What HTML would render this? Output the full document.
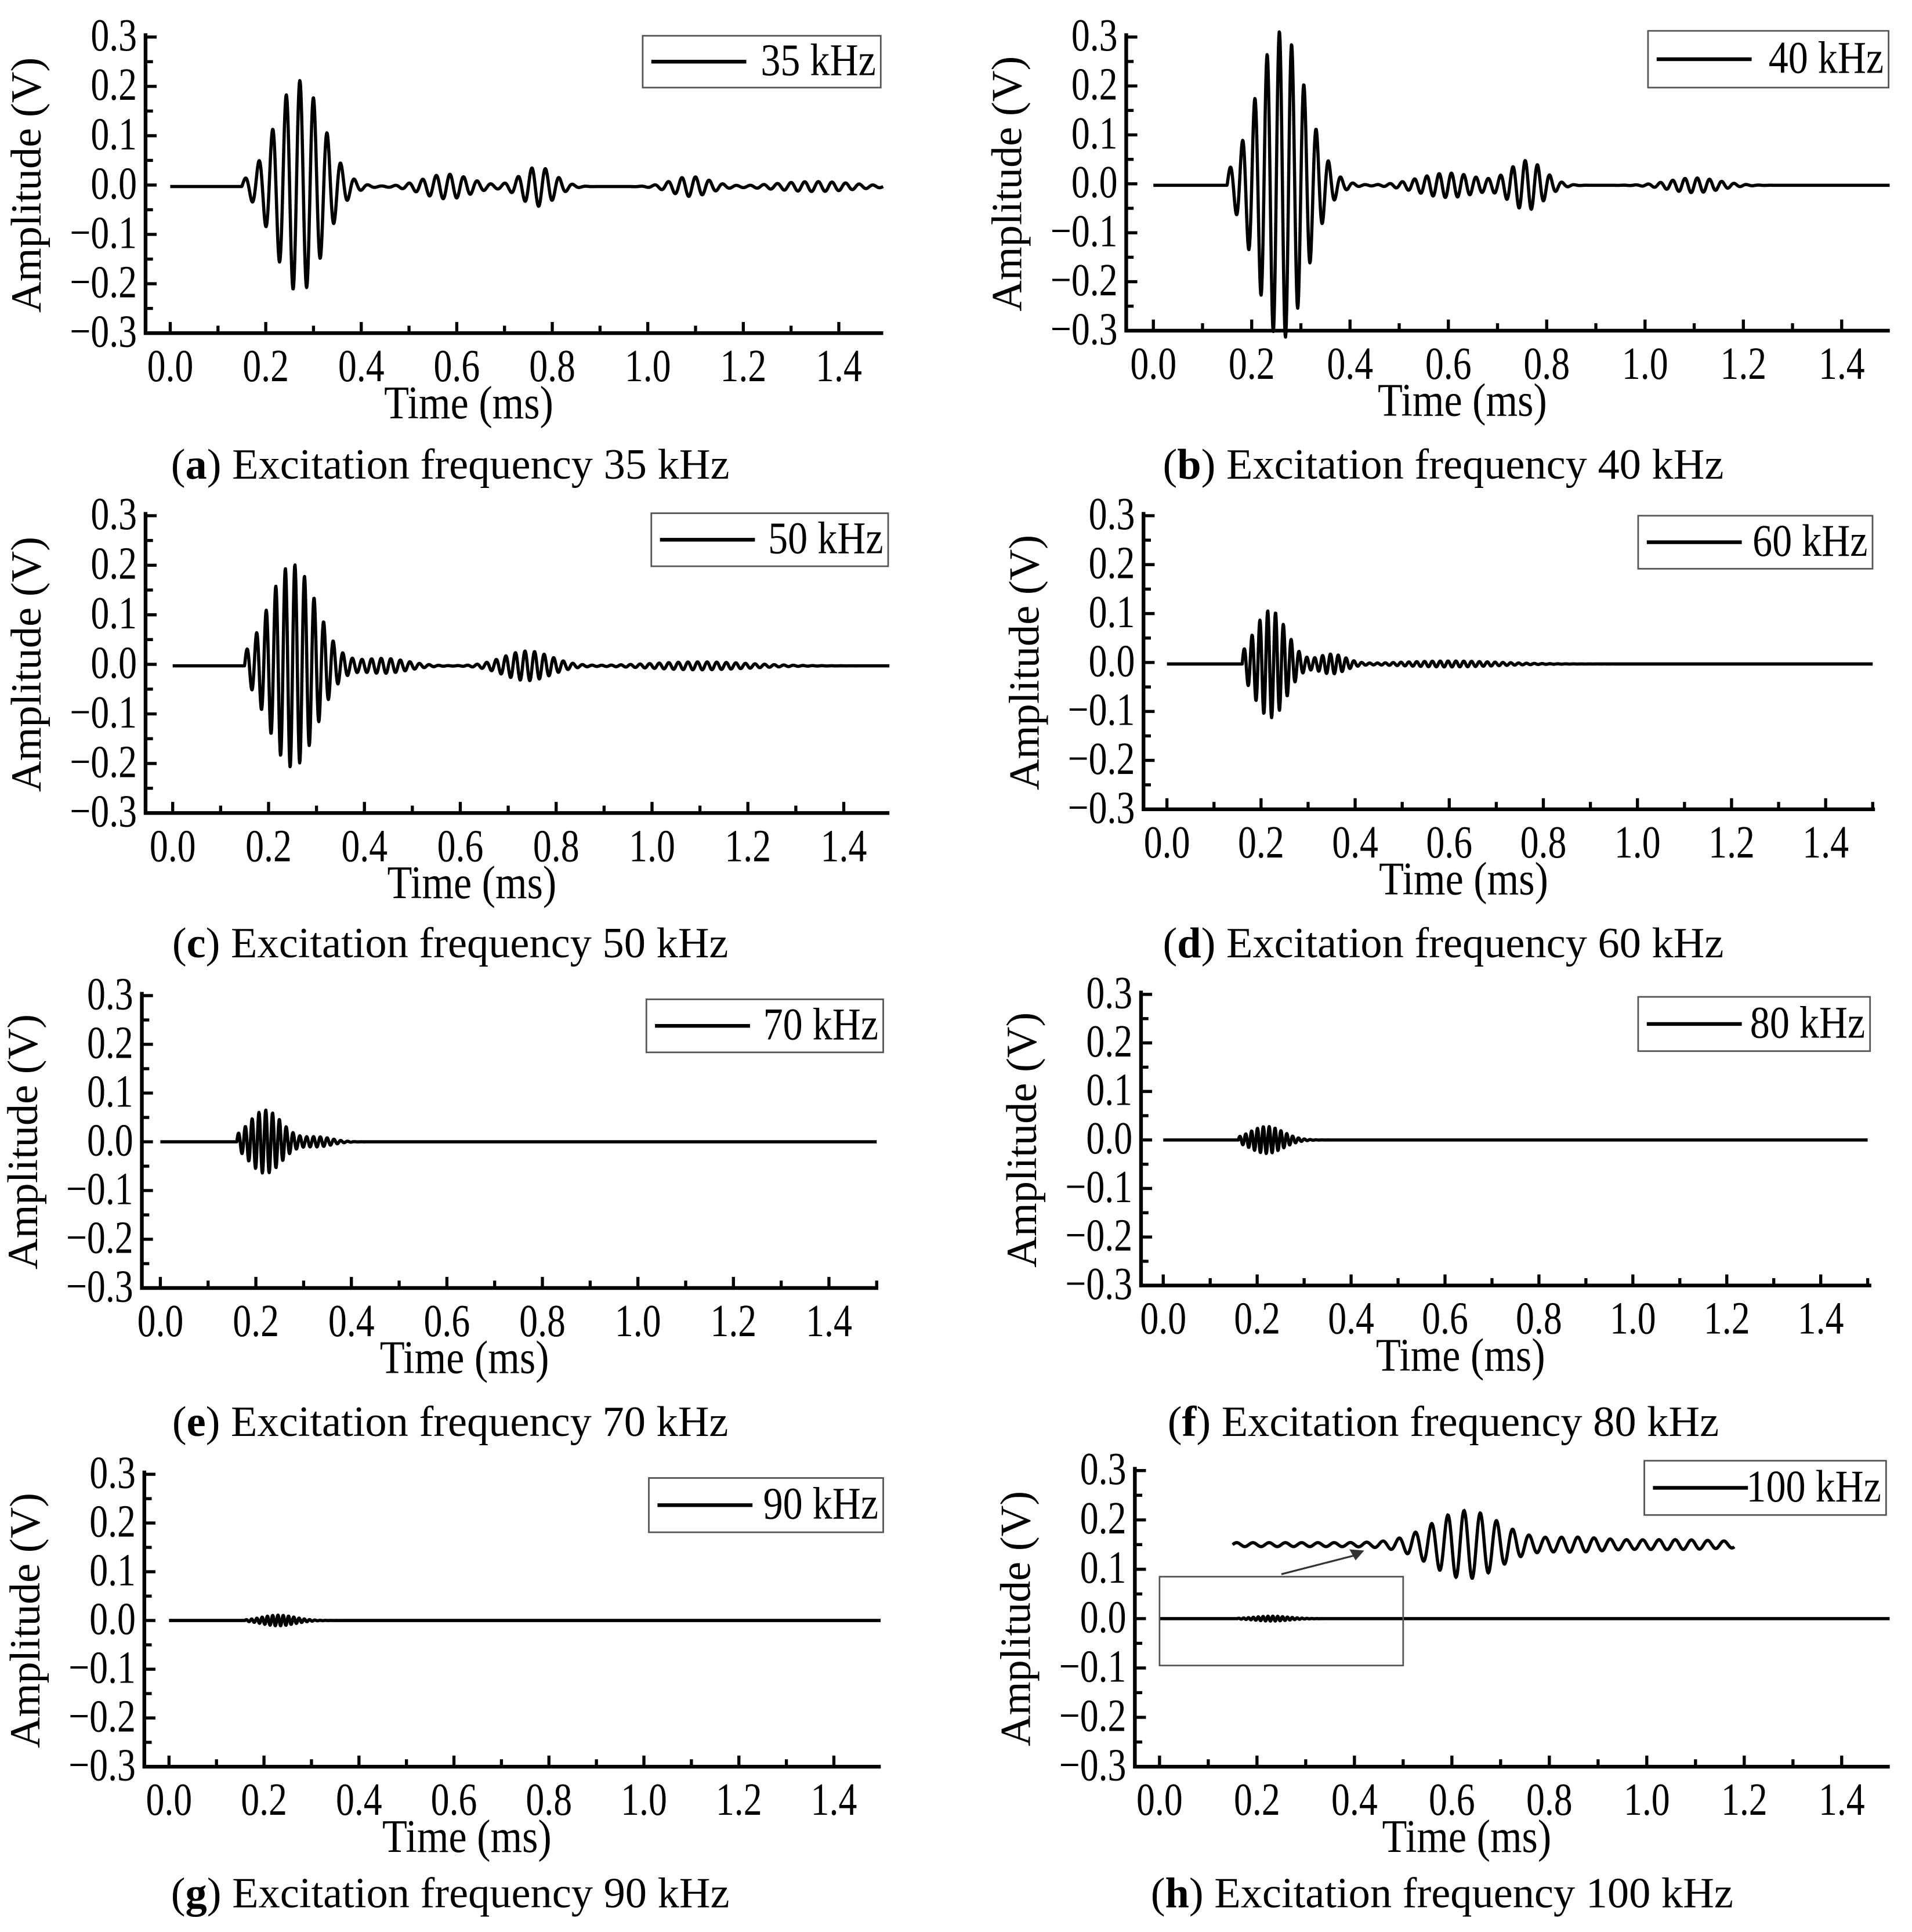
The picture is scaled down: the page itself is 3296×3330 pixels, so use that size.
<!DOCTYPE html>
<html><head><meta charset="utf-8"><style>
html,body{margin:0;padding:0;background:#fff}
svg{display:block}
text{font-family:"Liberation Serif",serif;fill:#000}
</style></head><body>
<svg id="fig" width="3296" height="3330" viewBox="0 0 1550 1566" preserveAspectRatio="none" xmlns="http://www.w3.org/2000/svg"></svg>
<script>
// Data arrays
const panelLetters = ['a','b','c','d','e','f','g','h'];
const freqs = [35,40,50,60,70,80,90,100];
const xTicks = [0.0,0.2,0.4,0.6,0.8,1.0,1.2,1.4];
const xTickLabels = ['0.0','0.2','0.4','0.6','0.8','1.0','1.2','1.4'];
const yTicks = [0.3,0.2,0.1,0.0,-0.1,-0.2,-0.3];
const yTickLabels = ['0.3','0.2','0.1','0.0','\u22120.1','\u22120.2','\u22120.3'];
// wave packets per panel: [center ms, amplitude V, sigma ms]
const packets = [
  [[0.27,0.215,0.05],[0.58,0.025,0.05],[0.77,0.04,0.035],[1.09,0.02,0.04],[1.35,0.01,0.08]],
  [[0.26,0.315,0.05],[0.6,0.025,0.06],[0.76,0.05,0.035],[1.1,0.015,0.05]],
  [[0.25,0.205,0.05],[0.44,0.015,0.05],[0.74,0.03,0.05],[1.1,0.008,0.1]],
  [[0.22,0.11,0.035],[0.35,0.02,0.03],[0.6,0.006,0.1]],
  [[0.22,0.065,0.035],[0.33,0.01,0.03]],
  [[0.22,0.028,0.035]],
  [[0.23,0.011,0.035]],
  [[0.23,0.005,0.035]]
];
const onset = [0.15,0.15,0.15,0.16,0.16,0.16,0.16,0.16];
const baseline = [-0.003,-0.003,-0.003,-0.003,0,0,0,0];
// inset of panel h: packets in inset units (V displacement), baseline value
const insetPackets = [[0.63,0.065,0.07],[0.85,0.01,0.06],[1.05,0.006,0.1]];
const insetBase = 0.15;
const insetRange = [0.15,1.18];
</script>
<script>
const svg = document.getElementById('fig');
const NS = 'http://www.w3.org/2000/svg';
function mk(tag, attrs, parent){const e=document.createElementNS(NS,tag);for(const k in attrs)e.setAttribute(k,attrs[k]);(parent||svg).appendChild(e);return e;}
function stext(x,y,size,anchor,parent,sy){return mk('text',{x:0,y:0,'font-size':size,'text-anchor':anchor,transform:`translate(${x},${y}) scale(1,${sy||1.2})`},parent);}
const layout = [
  [118,30,270,138,680,716,[521,29,714,71],377,365],
  [913,30,268,935,1493,1532,[1336,25,1531,71],377,1170],
  [118,418,659,140,684,721,[528,416,720,459],765,365],
  [927,418,656,946,1480,1520,[1328,418,1518,461],765,1170],
  [115,807,1044,130,672,712,[524,810,716,853],1153,365],
  [925,806,1042,943,1476,1517,[1328,808,1516,852],1153,1170],
  [117,1195,1432,137,676,714,[526,1198,716,1242],1535,365],
  [920,1192,1432,940,1493,1532,[1333,1184,1529,1228],1535,1169]
];
function signal(t,i){
  if(t<onset[i]) return baseline[i];
  let v=0;
  for(const p of packets[i]){const d=(t-p[0])/p[2];v+=p[1]*Math.exp(-0.5*d*d);}
  return baseline[i]+v*Math.sin(2*Math.PI*freqs[i]*(t-onset[i]));
}
for(let i=0;i<8;i++){
  const [L,yT,yB,x0,x14,R,lg,capY,capX]=layout[i];
  const g=mk('g',{});
  
  
  const sx=t=>x0+(x14-x0)*t/1.4;
  const sy=v=>yT+(yB-yT)*(0.3-v)/0.6;
  const ax=mk('path',{d:`M${L},${yT-3} V${yB} H${R}`,stroke:'#000','stroke-width':3,fill:'none'},g);
  
  
  for(let k=0;k<=12;k++){
    const v=0.3-k*0.05, y=sy(v), major=k%2===0;
    mk('line',{x1:L,x2:L+(major?9:6),y1:y,y2:y,stroke:'#000','stroke-width':2.5},g);
  }
  yTicks.forEach((v,k)=>{
    const t=stext(L-7,sy(v)+11,30,'end',g,1.25);
    t.textContent=yTickLabels[k];
    
    
  });
  for(let k=0;k<=15;k++){
    const tt=k*0.1, x=sx(tt); if(x>R) break;
    mk('line',{x1:x,x2:x,y1:yB,y2:yB-(k%2===0?9:6),stroke:'#000','stroke-width':2.5},g);
  }
  xTicks.forEach((v,k)=>{
    const t=stext(sx(v),yB+39,30,'middle',g,1.25);
    t.textContent=xTickLabels[k];
    
    
  });
  const xt=stext((L+R)/2-37,yB+69,33,'middle',g,1.15);
  xt.textContent='Time (ms)';
  
  
  const ycx=L-85, ycy=(yT+yB)/2;
  const yt=mk('text',{x:ycx,y:ycy,'font-size':35,'text-anchor':'middle',transform:`rotate(-90 ${ycx} ${ycy})`},g);
  yt.textContent='Amplitude (V)';
  
  
  let d='';
  for(let t=0;t<=1.5+1e-9;t+=0.0008){const x=sx(t);if(x>R)break;d+=(d?'L':'M')+x.toFixed(2)+','+sy(signal(t,i)).toFixed(2);}
  const ln=mk('path',{d,stroke:'#000','stroke-width':2.6,fill:'none','stroke-linejoin':'round'},g);
  
  
  const lgG=mk('g',{},g);
  
  
  mk('rect',{x:lg[0],y:lg[1],width:lg[2]-lg[0],height:lg[3]-lg[1],fill:'#fff',stroke:'#555','stroke-width':1.3},lgG);
  const ly=(lg[1]+lg[3])/2;
  mk('line',{x1:lg[0]+7,x2:lg[0]+84,y1:ly,y2:ly,stroke:'#000','stroke-width':3},lgG);
  const lt=stext(lg[2]-4,ly+11,32,'end',lgG,1.15);
  lt.textContent=freqs[i]+' kHz';
  const cp=mk('text',{x:capX,y:capY+11,'font-size':35,'text-anchor':'middle'},g);
  cp.innerHTML='(<tspan font-weight="bold">'+panelLetters[i]+'</tspan>) Excitation frequency '+freqs[i]+' kHz';
  
  
  if(i===7){
    const bx=mk('rect',{x:sx(0),y:sy(0.085),width:sx(0.5)-sx(0),height:sy(-0.095)-sy(0.085),fill:'none',stroke:'#555','stroke-width':1.3},g);
    
    
    const ar=mk('path',{d:`M${sx(0.25)},${sy(0.09)} L${sx(0.4)},${sy(0.128)}`,stroke:'#333','stroke-width':1.5},g);
    
    
    mk('path',{d:`M${sx(0.42)},${sy(0.138)} l-12,-1 l5,9 z`,fill:'#333'},g);
    let di='';
    for(let t=insetRange[0];t<=insetRange[1];t+=0.0008){
      let v=0;for(const p of insetPackets){const q=(t-p[0])/p[2];v+=p[1]*Math.exp(-0.5*q*q);}
      v+=0.004;
      const y=insetBase+v*Math.sin(2*Math.PI*30*(t-0.15));
      di+=(di?'L':'M')+sx(t).toFixed(2)+','+sy(y).toFixed(2);
    }
    const il=mk('path',{d:di,stroke:'#000','stroke-width':2.6,fill:'none'},g);
    
    
  }
}
</script>
</body></html>
